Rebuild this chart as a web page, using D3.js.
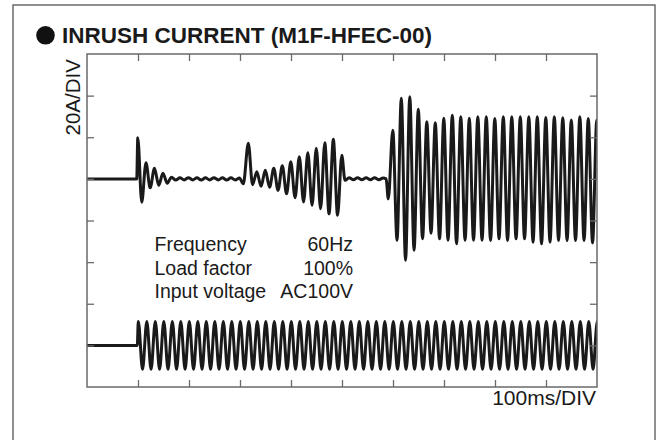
<!DOCTYPE html>
<html><head><meta charset="utf-8">
<script src="https://cdn.jsdelivr.net/npm/d3@7"></script>
<style>html,body{margin:0;padding:0;background:#fff;} svg{display:block;}</style>
</head><body><svg id="chart" width="658" height="440"></svg>
<script>
// ---------- data ----------
const titleText = "INRUSH CURRENT (M1F-HFEC-00)";
const yUnitLabel = "20A/DIV";
const xUnitLabel = "100ms/DIV";
const conditionLabels = ["Frequency", "Load factor", "Input voltage"];
const conditionValues = ["60Hz", "100%", "AC100V"];
const timeTicks = [100, 200, 300, 400, 500, 600, 700, 800, 900];     // ms
const currentTicks = [40, 20, 0, -20, -40, -60, -80];                 // A
// current trace: [time ms, current A] at each turning point
const currentPoints = [
  [0,0],[97.5,0],
  [99.6,19.7],[107.3,-11.2],[115.6,7.7],[123.9,-4.3],[132.3,5.1],[140.6,-3.1],[148.9,2.7],[157.3,-2.1],[165.6,0.8],
  [173.9,-0.6],[182.3,0.5],[190.6,-0.5],[198.9,0.6],[207.3,-0.5],[215.6,0.5],[223.9,-0.6],[232.3,0.5],[240.6,-0.5],
  [248.9,0.6],[257.3,-0.5],[265.6,0.5],[273.9,-0.6],[282.3,0.5],[290.6,-0.5],[298.9,0.4],
  [306.5,-2.4],[316.3,17.1],[324.6,-2.8],[333.0,3.4],[341.3,-3.6],[349.6,4.2],[358.0,-4.0],[366.3,5.1],[374.6,-5.5],
  [383.0,6.3],[391.3,-7.2],[399.6,8.2],[408.0,-9.1],[416.3,10.6],[424.6,-11.1],[433.0,12.5],[441.3,-12.7],[449.6,14.7],
  [458.0,-14.4],[466.3,17.3],[474.6,-16.8],[483.0,19.0],[491.3,-17.5],[499.6,11.3],[505.9,-0.7],
  [514.0,0.5],[522.3,-0.4],[530.6,0.5],[539.0,-0.4],[547.3,0.5],[555.6,-0.4],[564.0,0.5],[572.3,-0.4],[580.6,0.4],[586.5,0],
  [590.8,-9.6],[599.6,23.4],[607.9,-29.5],[616.3,38.7],[624.6,-39.1],[632.9,39.4],[641.3,-34.3],[649.6,33.4],[657.9,-28.8],
  [666.3,27.4],[674.6,-26.1],[682.9,27.0],[691.3,-28.8],[699.6,29.1],[707.9,-29.5],[716.3,30.6],[724.6,-31.2],[732.9,29.8],
  [741.3,-29.5],[749.6,29.1],[757.9,-29.5],[766.3,29.8],[774.6,-29.5],[782.9,29.8],[791.3,-29.6],[799.6,29.0],[807.9,-28.8],
  [816.3,29.8],[824.6,-29.6],[832.9,29.8],[841.3,-28.8],[849.6,29.8],[857.9,-28.8],[866.3,29.8],[874.6,-30.4],[882.9,29.8],
  [891.3,-31.2],[899.6,29.5],[907.9,-30.4],[916.3,29.8],[924.6,-29.6],[932.9,29.4],[941.3,-29.6],[949.6,28.3],[957.9,-29.6],
  [966.3,29.8],[974.6,-29.6],[982.9,29.0],[991.3,-30.8],[999.6,28.3],[1007.9,-29.6]
];
// input voltage trace: [time ms, voltage V] at each turning point
const voltagePoints = [
  [0,0],[98.6,0],
  [100.6,138],[108.9,-138],[117.3,138],[125.6,-138],[133.9,138],[142.3,-138],[150.6,138],[158.9,-138],[167.3,138],[175.6,-138],
  [183.9,138],[192.3,-138],[200.6,138],[208.9,-138],[217.3,138],[225.6,-138],[233.9,138],[242.3,-138],[250.6,138],[258.9,-138],
  [267.3,138],[275.6,-138],[283.9,138],[292.3,-138],[300.6,138],[308.9,-138],[317.3,138],[325.6,-138],[333.9,138],[342.3,-138],
  [350.6,138],[358.9,-138],[367.3,138],[375.6,-138],[383.9,138],[392.3,-138],[400.6,138],[408.9,-138],[417.3,138],[425.6,-138],
  [433.9,138],[442.3,-138],[450.6,138],[458.9,-138],[467.3,138],[475.6,-138],[483.9,138],[492.3,-138],[500.6,138],[508.9,-138],
  [517.3,138],[525.6,-138],[533.9,138],[542.3,-138],[550.6,138],[558.9,-138],[567.3,138],[575.6,-138],[583.9,138],[592.3,-138],
  [600.6,138],[608.9,-138],[617.3,138],[625.6,-138],[633.9,138],[642.3,-138],[650.6,138],[658.9,-138],[667.3,138],[675.6,-138],
  [683.9,138],[692.3,-138],[700.6,138],[708.9,-138],[717.3,138],[725.6,-138],[733.9,138],[742.3,-138],[750.6,138],[758.9,-138],
  [767.3,138],[775.6,-138],[783.9,138],[792.3,-138],[800.6,138],[808.9,-138],[817.3,138],[825.6,-138],[833.9,138],[842.3,-138],
  [850.6,138],[858.9,-138],[867.3,138],[875.6,-138],[883.9,138],[892.3,-138],[900.6,138],[908.9,-138],[917.3,138],[925.6,-138],
  [933.9,138],[942.3,-138],[950.6,138],[958.9,-138],[967.3,138],[975.6,-138],[983.9,138],[992.3,-138],[1000.6,138],[1008.9,-138]
];

// ---------- layout ----------
const W = 658, H = 440;
const plot = {left: 87, right: 597, top: 54, bottom: 387};
const FONT = "'Liberation Sans', Arial, Helvetica, sans-serif";
const svg = d3.select("#chart");

const x = d3.scaleLinear().domain([0, 1000]).range([plot.left, plot.right]);
const yI = d3.scaleLinear().domain([-100, 60]).range([plot.bottom, plot.top]);
const yV = d3.scaleLinear().domain([-240, 240]).range([plot.bottom, plot.bottom - 2 * (plot.bottom - plot.top) / 8]);

// outer frame
svg.append("rect").attr("x", 13).attr("y", 5).attr("width", 642).attr("height", 450)
  .attr("fill", "none").attr("stroke", "#555").attr("stroke-width", 1.3);

// title
svg.append("circle").attr("cx", 45.5).attr("cy", 35.3).attr("r", 9.3).attr("fill", "#111");
svg.append("text").attr("x", 62).attr("y", 42.7)
  .attr("font-family", FONT).attr("font-weight", "bold").attr("font-size", 22.5).attr("fill", "#1a1a1a")
  .text(titleText);

// clip
svg.append("clipPath").attr("id", "plotclip").append("rect")
  .attr("x", plot.left).attr("y", plot.top).attr("width", plot.right - plot.left).attr("height", plot.bottom - plot.top);

// traces
const lineI = d3.line().x(d => x(d[0])).y(d => yI(d[1])).curve(d3.curveMonotoneX);
const lineV = d3.line().x(d => x(d[0])).y(d => yV(d[1])).curve(d3.curveMonotoneX);
const traces = svg.append("g").attr("clip-path", "url(#plotclip)");
traces.append("path").attr("d", lineI(currentPoints)).attr("fill", "none")
  .attr("stroke", "#1a1a1a").attr("stroke-width", 3).attr("stroke-linejoin", "round");
traces.append("path").attr("d", lineV(voltagePoints)).attr("fill", "none")
  .attr("stroke", "#1a1a1a").attr("stroke-width", 3).attr("stroke-linejoin", "round");

// axes (ticks inside frame)
const tickColor = "#6a6a6a";
function styleAxis(g) {
  g.select(".domain").remove();
  g.selectAll(".tick line").attr("stroke", tickColor).attr("stroke-width", 1.3);
  g.selectAll(".tick text").remove();
}
svg.append("g").attr("transform", `translate(0,${plot.top})`)
  .call(d3.axisTop(x).tickValues(timeTicks).tickSize(-7).tickFormat("")).call(styleAxis);
svg.append("g").attr("transform", `translate(0,${plot.bottom})`)
  .call(d3.axisBottom(x).tickValues(timeTicks).tickSize(-7).tickFormat("")).call(styleAxis);
svg.append("g").attr("transform", `translate(${plot.left},0)`)
  .call(d3.axisLeft(yI).tickValues(currentTicks).tickSize(-7).tickFormat("")).call(styleAxis);
svg.append("g").attr("transform", `translate(${plot.right},0)`)
  .call(d3.axisRight(yI).tickValues(currentTicks).tickSize(-7).tickFormat("")).call(styleAxis);

svg.append("rect").attr("x", plot.left).attr("y", plot.top)
  .attr("width", plot.right - plot.left).attr("height", plot.bottom - plot.top)
  .attr("fill", "none").attr("stroke", tickColor).attr("stroke-width", 1.5);

// unit labels
svg.append("text").attr("transform", `translate(80,135.5) rotate(-90)`)
  .attr("font-family", FONT).attr("font-size", 20.5).attr("fill", "#1a1a1a").text(yUnitLabel);
svg.append("text").attr("x", 596).attr("y", 405).attr("text-anchor", "end")
  .attr("font-family", FONT).attr("font-size", 21).attr("fill", "#1a1a1a").text(xUnitLabel);

// conditions
const rowY = [251, 274.5, 298];
conditionLabels.forEach((t, i) => {
  svg.append("text").attr("x", 154.5).attr("y", rowY[i])
    .attr("font-family", FONT).attr("font-size", 19.5).attr("fill", "#1a1a1a").text(t);
  svg.append("text").attr("x", 353).attr("y", rowY[i]).attr("text-anchor", "end")
    .attr("font-family", FONT).attr("font-size", 19.5).attr("fill", "#1a1a1a").text(conditionValues[i]);
});
</script>
</body></html>
